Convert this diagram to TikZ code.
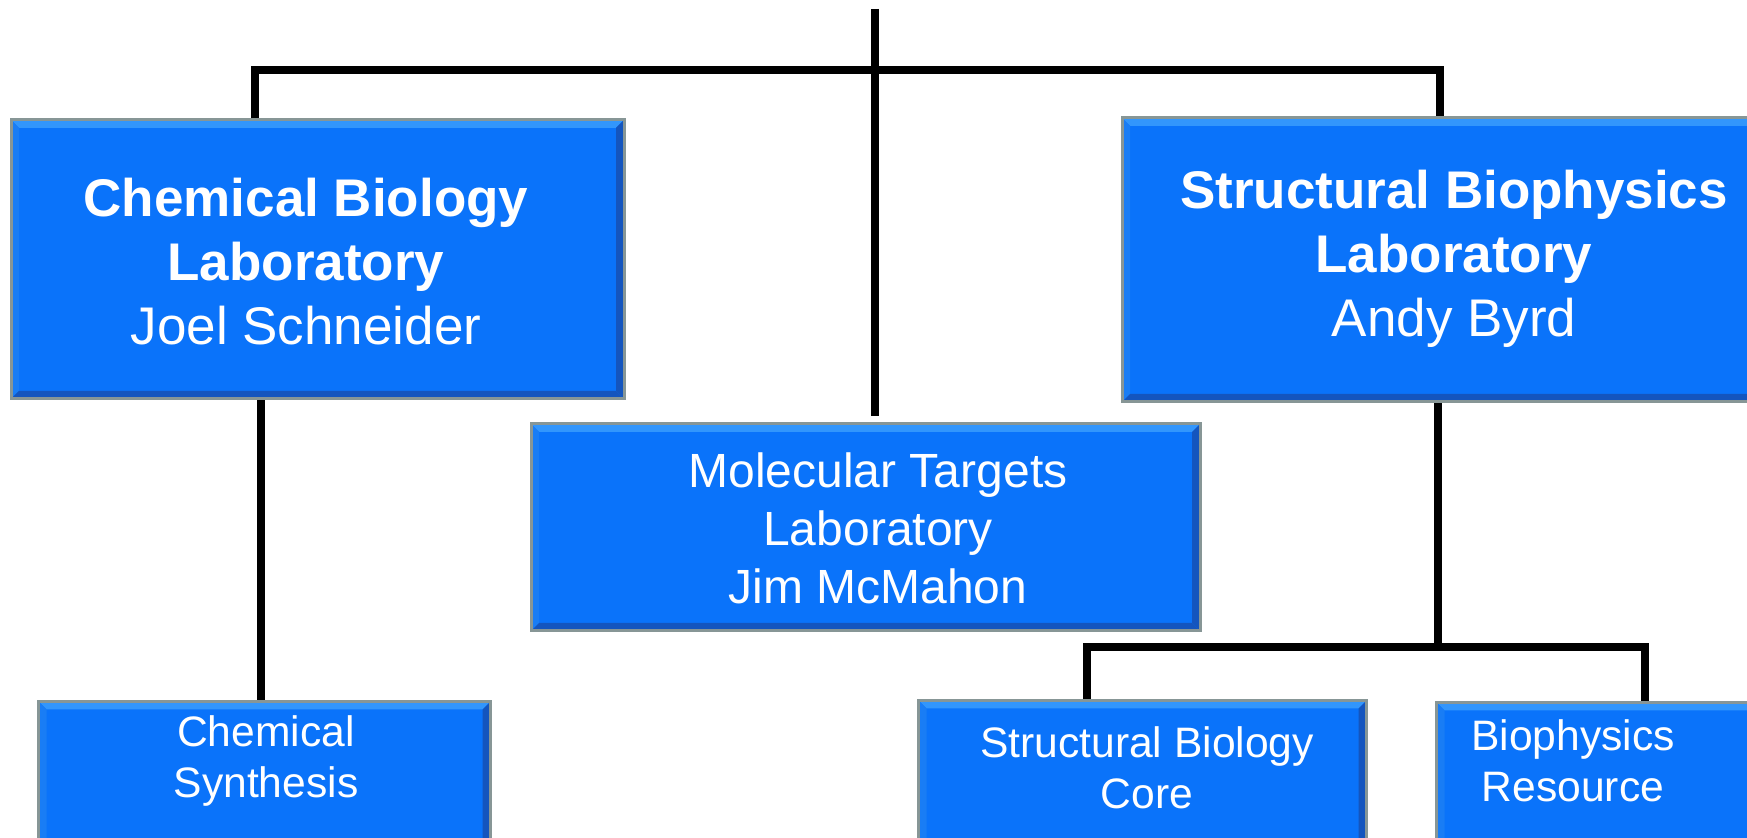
\documentclass[tikz,border=0pt]{standalone}
\usepackage{fontspec}
\setmainfont{Liberation Sans}

\definecolor{labblue}{RGB}{10,115,250}
\definecolor{bevtop}{RGB}{50,150,252}
\definecolor{bevleft}{RGB}{25,125,245}
\definecolor{bevdark}{RGB}{20,85,190}
\definecolor{rimgray}{RGB}{135,150,150}

\begin{document}
\begin{tikzpicture}[x=0.5pt,y=-0.5pt,
  unit/.style={draw=rimgray, line width=1.5pt, fill=labblue, inner sep=0pt,
    path picture={
      \coordinate (nw) at (path picture bounding box.north west);
      \coordinate (ne) at (path picture bounding box.north east);
      \coordinate (sw) at (path picture bounding box.south west);
      \coordinate (se) at (path picture bounding box.south east);
      \fill[bevtop] (nw) -- (ne) -- ([shift={(-4pt,-4pt)}]ne) -- ([shift={(4pt,-4pt)}]nw) -- cycle;
      \fill[bevleft] (nw) -- ([shift={(4pt,-4pt)}]nw) -- ([shift={(4pt,4pt)}]sw) -- (sw) -- cycle;
      \fill[bevdark] (ne) -- ([shift={(-4pt,-4pt)}]ne) -- ([shift={(-4pt,4pt)}]se) -- (se) -- cycle;
      \fill[bevdark] (sw) -- ([shift={(4pt,4pt)}]sw) -- ([shift={(-4pt,4pt)}]se) -- (se) -- cycle;
    }},
  big/.style={font=\fontsize{26.5}{32}\selectfont},
  mid/.style={font=\fontsize{24}{29}\selectfont},
  sml/.style={font=\fontsize{21.3}{25.5}\selectfont},
  lbl/.style={text=white, align=center, inner sep=0pt},
  link/.style={line width=3.75pt}]
  \useasboundingbox (0,0) rectangle (1747,838);
  \clip (0,0) rectangle (1747,838);

  % laboratories
  \node (chem) [unit, minimum width=306.5pt, minimum height=139.5pt] at (317.5,259.5) {};
  \node (struct) [unit, minimum width=332pt, minimum height=142pt] at (1454,260) {};
  \node (moltar) [unit, minimum width=334.5pt, minimum height=103.5pt] at (865.5,527.5) {};
  \node (chemtxt) [lbl, big] at (306,262)
    {\textbf{Chemical Biology}\\ \textbf{Laboratory}\\ Joel Schneider};
  \node (structtxt) [lbl, big] at (1454,259)
    {\textbf{Structural Biophysics}\\ \textbf{Laboratory}\\ Andy Byrd};
  \node (moltartxt) [lbl, mid] at (878,528)
    {Molecular Targets\\ Laboratory\\ Jim McMahon};

  % cores
  \node (synth) [unit, anchor=north west, minimum width=226pt, minimum height=90pt] at (37,700) {};
  \node (sbcore) [unit, anchor=north west, minimum width=224pt, minimum height=90pt] at (917,699) {};
  \node (bioph) [unit, anchor=north west, minimum width=200pt, minimum height=90pt] at (1435,701) {};
  \node (synthtxt) [lbl, sml] at (266,761) {Chemical\\ Synthesis};
  \node (sbcoretxt) [lbl, sml] at (1147,768) {Structural Biology\\ Core};
  \node (biophtxt) [lbl, sml] at (1573,761) {Biophysics\\ Resource};

  \coordinate (top) at (875,9);
  \coordinate (busl) at (255,70);
  \coordinate (busr) at (1440,70);
  \coordinate (cs) at (261,0);
  \coordinate (sb) at (1438,647);
  \coordinate (bl) at (1087,647);
  \coordinate (br) at (1645,647);

  \draw[link] (top) -- ([yshift=3pt]top |- moltar.north);
  \draw[link] (busl |- chem.north) -- (busl) -- (busr) -- (busr |- struct.north);
  \draw[link] (cs |- chem.south) -- (cs |- synth.north);
  \draw[link] (sb |- struct.south) -- (sb);
  \draw[link] (bl |- sbcore.north) -- (bl) -- (br) -- (br |- bioph.north);
\end{tikzpicture}
\end{document}
